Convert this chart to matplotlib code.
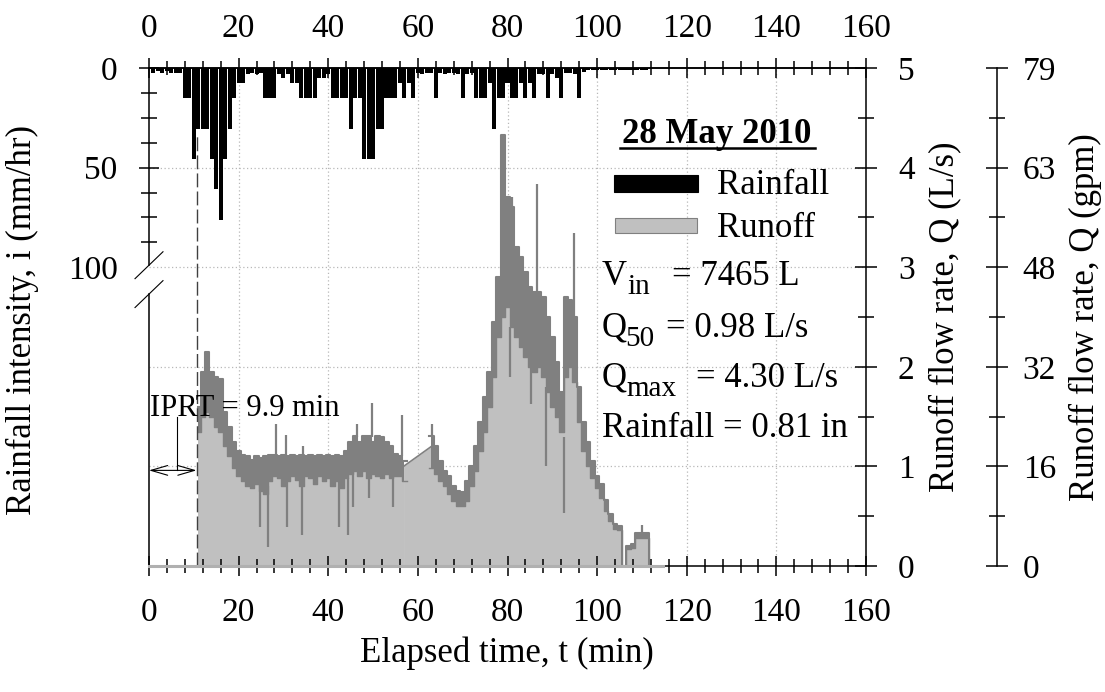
import numpy as np
import matplotlib.pyplot as plt
from matplotlib.lines import Line2D
from matplotlib.patches import Rectangle
from matplotlib.ticker import FixedLocator

plt.rcParams['font.family'] = ['Liberation Serif', 'DejaVu Serif']

W, H = 1105, 692

# rainfall intensity per minute (mm/hr), minutes 1..111
rain_i = [2.3, 1.5, 2.3, 1.5, 2.3, 2.3, 2.3,
          15.24, 15.24, 45.72, 30.48, 30.48, 30.48, 45.72, 60.96, 76.2,
          45.72, 30.48, 15.24, 7.62, 7.62, 3.0, 2.5, 3.0, 2.5,
          15.24, 15.24, 15.24, 3.0, 5.0, 3.0, 7.62, 7.62,
          15.24, 15.24, 15.24, 15.24, 5.0, 5.0, 3.0,
          15.24, 15.24, 15.24, 15.24, 30.48, 15.24, 15.24,
          45.72, 45.72, 45.72, 30.48, 30.48, 15.24, 15.24, 15.24,
          7.62, 15.24, 7.62, 15.24, 2.5, 3.0, 2.5, 2.5,
          15.24, 2.5, 3.0, 2.5, 2.5, 3.0, 15.24, 3.0, 2.5,
          15.24, 15.24, 15.24, 7.62, 30.48, 15.24, 15.24, 7.62,
          15.24, 15.24, 7.62, 15.24, 7.62, 15.24, 3.0, 3.0,
          15.24, 3.0, 5.0, 15.24, 2.5, 2.5, 3.0, 15.24, 2.0,
          1.0, 1.0, 1.0, 1.0, 1.0, 1.0, 1.0, 1.0, 1.0, 1.0, 1.0, 1.0, 1.0, 1.0]
rain_t = np.arange(1, len(rain_i) + 1)

# runoff flow rate (L/s), minutes 11..112: upper and lower edge of the noisy trace
nan = np.nan
q_hi = [1.6, 1.95, 2.15, 1.95, 1.9, 1.88, 1.55, 1.4, 1.25, 1.15,
        1.11, 1.1, 1.06, 1.1, 1.08, 1.1, 1.11, 1.11, 1.1, 1.11,
        1.1, 1.11, 1.1, 1.11, 1.1, 1.11, 1.1, 1.11, 1.1, 1.11,
        1.1, 1.11, 1.1, 1.15, 1.25, 1.31, 1.25, 1.31, 1.31, 1.25,
        1.31, 1.3, 1.25, 1.2, 1.12, 1.1, 1.05, nan, nan, nan,
        nan, nan, 1.31, 1.2, 1.05, 0.95, 0.9, 0.8, 0.75, 0.74,
        0.85, 1.0, 1.2, 1.45, 1.7, 1.95, 2.45, 2.9, 4.33, 3.7,
        3.6, 3.2, 3.1, 2.95, 2.8, 2.75, 2.75, 2.7, 2.5, 2.3,
        2.05, 1.75, 2.7, 2.67, 2.5, 1.8, 1.45, 1.25, 1.05, 0.9,
        0.82, 0.66, 0.52, 0.42, 0.4, 0.0, 0.2, 0.22, 0.33, 0.33,
        0.33, 0.0]
q_lo = [1.35, 1.5, 1.55, 1.5, 1.4, 1.35, 1.2, 1.1, 0.98, 0.9,
        0.85, 0.8, 0.78, 0.82, 0.75, 0.72, 0.85, 0.9, 0.88, 0.8,
        0.85, 0.9, 0.86, 0.8, 0.9, 0.88, 0.82, 0.9, 0.85, 0.88,
        0.8, 0.85, 0.78, 0.88, 0.92, 0.95, 0.9, 0.95, 0.88, 0.92,
        0.9, 0.88, 0.92, 0.88, 0.9, 0.9, 0.85, nan, nan, nan,
        nan, nan, 0.98, 0.92, 0.85, 0.8, 0.72, 0.65, 0.6, 0.6,
        0.65, 0.8, 0.95, 1.15, 1.35, 1.6, 1.9, 2.3, 2.5, 2.6,
        2.4, 2.3, 2.2, 2.1, 2.0, 1.95, 2.0, 1.9, 1.75, 1.6,
        1.5, 1.35, 1.9, 2.0, 1.85, 1.45, 1.15, 1.0, 0.88, 0.78,
        0.68, 0.55, 0.45, 0.37, 0.36, 0.0, 0.17, 0.18, 0.28, 0.28,
        0.28, 0.0]
q_t = np.arange(11, 11 + len(q_hi))

# logger gap drawn as a straight segment
gap_t = [56.8, 63.0]
gap_q = [1.0, 1.2]

# single-sample spikes above and below the trace
up_t = [28.4, 30.6, 34.3, 46.4, 49.7, 56.4, 63.1, 80.9, 86.5, 94.9, 110.0]
up_bot = [1.1, 1.1, 1.1, 1.3, 1.3, 1.1, 1.31, 3.2, 2.75, 2.5, 0.33]
up_top = [1.43, 1.32, 1.2, 1.43, 1.64, 1.52, 1.43, 3.7, 3.84, 3.34, 0.41]
dn_t = [24.8, 26.6, 30.7, 34.1, 42.3, 44.3, 45.6, 49.2, 54.5, 80.6, 85.3, 88.6, 92.7]
dn_top = [0.85, 0.8, 0.88, 0.87, 0.9, 0.88, 0.95, 0.95, 0.92, 2.4, 2.0, 1.8, 1.3]
dn_bot = [0.39, 0.19, 0.39, 0.31, 0.39, 0.31, 0.59, 0.68, 0.59, 1.9, 1.63, 1.0, 0.53]

x_ticks = [0, 20, 40, 60, 80, 100, 120, 140, 160]
q_ticks = [0, 1, 2, 3, 4, 5]
gpm_labels = ['0', '16', '32', '48', '63', '79']
rain_ticks = [0, 50, 100]
rain_minor = [12.5, 25, 37.5, 62.5, 75, 87.5]

fig = plt.figure(figsize=(W / 100, H / 100), dpi=100)
ax = fig.add_axes([149 / W, 1 - 566 / H, 717 / W, 498 / H])
axr = ax.twinx()
axg = ax.twinx()
ax.set_xlim(0, 160)
ax.set_ylim(0, 5)

for x in x_ticks[1:-1]:
    ax.axvline(x, color='#b8b8b8', lw=0.9, ls=(0, (1, 2)), zorder=0)
for y in q_ticks[1:-1]:
    ax.axhline(y, color='#b8b8b8', lw=0.9, ls=(0, (1, 2)), zorder=0)

# runoff
ax.fill_between(gap_t, 0, gap_q, color='#c0c0c0', lw=0, zorder=1)
ax.fill_between(q_t, 0, q_lo, step='mid', color='#c0c0c0', lw=0, zorder=1.05)
ax.fill_between(q_t, q_lo, q_hi, step='mid', color='#808080', lw=0, zorder=1.2)
ax.plot(q_t, q_hi, drawstyle='steps-mid', color='#808080', lw=1.5, zorder=1.3)
ax.plot(q_t, q_lo, drawstyle='steps-mid', color='#808080', lw=1.0, zorder=1.3)
ax.plot(gap_t, gap_q, color='#808080', lw=1.2, zorder=1.3)
ax.vlines(up_t, up_bot, up_top, color='#808080', lw=1.6, zorder=1.3)
ax.vlines(dn_t, dn_bot, dn_top, color='#808080', lw=1.6, zorder=1.3)
ax.plot([0, 114.7], [0, 0], color='#b0b0b0', lw=2.2, zorder=3, clip_on=False)

# IPRT marker
ax.plot([10.6, 10.6], [0, 4.35], color='#404040', lw=1.0, ls=(0, (10, 3)), zorder=2)
ax.annotate('', xy=(0, 0.96), xytext=(10.6, 0.96),
            arrowprops=dict(arrowstyle='<->,head_length=1.2,head_width=0.35',
                            lw=0.8, color='black', shrinkA=0, shrinkB=0), zorder=4)
ax.plot([6.3, 6.3], [0.96, 1.5], color='black', lw=0.8, zorder=4)
ax.text(0.2, 1.58, 'IPRT = 9.9 min', fontsize=22, va='center', ha='left', zorder=5)

# bottom x axis
ax.xaxis.set_major_locator(FixedLocator(x_ticks))
ax.xaxis.set_minor_locator(FixedLocator(np.arange(0, 161, 4)))
ax.tick_params(axis='x', which='both', direction='inout', top=False, bottom=True,
               labeltop=False, labelbottom=True, labelsize=24, width=1.1)
ax.tick_params(axis='x', which='major', length=15, pad=15)
ax.tick_params(axis='x', which='minor', length=10)

# top x axis
sec = ax.secondary_xaxis('top')
sec.xaxis.set_major_locator(FixedLocator(x_ticks))
sec.xaxis.set_minor_locator(FixedLocator(np.arange(0, 161, 4)))
sec.tick_params(axis='x', which='both', direction='inout', labelsize=24, width=1.1)
sec.tick_params(axis='x', which='major', length=15, pad=9.5)
sec.tick_params(axis='x', which='minor', length=10)
sec.spines['top'].set_linewidth(1.1)

# runoff axis on the right
ax.yaxis.tick_right()
ax.set_yticks(q_ticks)
ax.yaxis.set_minor_locator(FixedLocator(np.arange(0.5, 5, 1.0)))
ax.tick_params(axis='y', which='both', direction='inout', left=False, right=True,
               labelleft=False, labelright=True, labelsize=24, width=1.1, pad=15)
ax.tick_params(axis='y', which='major', length=16)
ax.tick_params(axis='y', which='minor', length=11)
ax.spines['left'].set_visible(False)
for s in ['top', 'bottom', 'right']:
    ax.spines[s].set_linewidth(1.1)

# rainfall on inverted twin axis
axr.set_ylim(250, 0)
axr.bar(rain_t, rain_i, width=0.9, color='black', lw=0, zorder=2)
axr.yaxis.tick_left()
axr.set_yticks(rain_ticks)
axr.yaxis.set_minor_locator(FixedLocator(rain_minor))
axr.tick_params(axis='y', which='both', direction='inout', left=True, right=False,
                labelleft=True, labelright=False, labelsize=24, width=1.1, pad=15)
axr.tick_params(axis='y', which='major', length=15)
axr.tick_params(axis='y', which='minor', length=11)
axr.yaxis.get_major_ticks()[2].tick1line.set_visible(False)
for s in axr.spines.values():
    s.set_visible(False)

# broken left spine
tr = ax.transAxes
ax.add_line(Line2D([0, 0], [1, 0.604], transform=tr, color='black', lw=1.1, clip_on=False))
ax.add_line(Line2D([0, 0], [0.546, 0], transform=tr, color='black', lw=1.1, clip_on=False))
for yc in [0.604, 0.546]:
    ax.add_line(Line2D([-0.0195, 0.0195], [yc - 0.027, yc + 0.027], transform=tr,
                       color='black', lw=0.8, clip_on=False))

# second runoff axis in gpm
axg.set_ylim(0, 5)
axg.spines['right'].set_position(('axes', (997 - 149) / 717))
for s in ['top', 'bottom', 'left']:
    axg.spines[s].set_visible(False)
axg.spines['right'].set_linewidth(1.1)
axg.set_yticks(q_ticks)
axg.set_yticklabels(gpm_labels)
axg.yaxis.set_minor_locator(FixedLocator(np.arange(0.5, 5, 1.0)))
axg.tick_params(axis='y', which='both', direction='inout', labelsize=24, width=1.1, pad=10.5)
axg.tick_params(axis='y', which='major', length=16)
axg.tick_params(axis='y', which='minor', length=12)

# axis labels
fig.text(22 / W, 1 - 320 / H, 'Rainfall intensity, i (mm/hr)', rotation=90,
         ha='center', va='center', fontsize=25)
fig.text(945 / W, 1 - 317 / H, 'Runoff flow rate, Q (L/s)', rotation=90,
         ha='center', va='center', fontsize=25)
fig.text(1085 / W, 1 - 317 / H, 'Runoff flow rate, Q (gpm)', rotation=90,
         ha='center', va='center', fontsize=25)
fig.text(507 / W, 1 - 653 / H, 'Elapsed time, t (min)', ha='center', va='center', fontsize=25)

# legend block
fig.text(717 / W, 1 - 143 / H, '28 May 2010', ha='center', va='baseline',
         fontsize=25, fontweight='bold')
fig.add_artist(Line2D([620 / W, 815 / W], [1 - 148 / H, 1 - 148 / H], color='black', lw=1.8))
fig.add_artist(Rectangle((614 / W, 1 - 192 / H), 84 / W, 17 / H, transform=fig.transFigure,
                         facecolor='black', edgecolor='black', lw=0.8))
fig.text(717 / W, 1 - 194 / H, 'Rainfall', va='baseline', fontsize=25)
fig.add_artist(Rectangle((615 / W, 1 - 233 / H), 82 / W, 15 / H, transform=fig.transFigure,
                         facecolor='#c0c0c0', edgecolor='#808080', lw=0.8))
fig.text(717 / W, 1 - 237 / H, 'Runoff', va='baseline', fontsize=25)

# event statistics, subscripts set as separate smaller texts
stats = [('V', 'in', '= 7465 L', 285, 627, 672),
         ('Q', '50', '= 0.98 L/s', 337, 625, 666),
         ('Q', 'max', '= 4.30 L/s', 387, 626, 696)]
for base, sub, rest, yb, xs, xr in stats:
    fig.text(602 / W, 1 - yb / H, base, va='baseline', fontsize=25)
    fig.text(xs / W, 1 - (yb + 9) / H, sub, va='baseline', fontsize=21)
    fig.text(xr / W, 1 - yb / H, rest, va='baseline', fontsize=25)
fig.text(602 / W, 1 - 437 / H, 'Rainfall = 0.81 in', va='baseline', fontsize=25)

fig.savefig('out.png', dpi=100)
